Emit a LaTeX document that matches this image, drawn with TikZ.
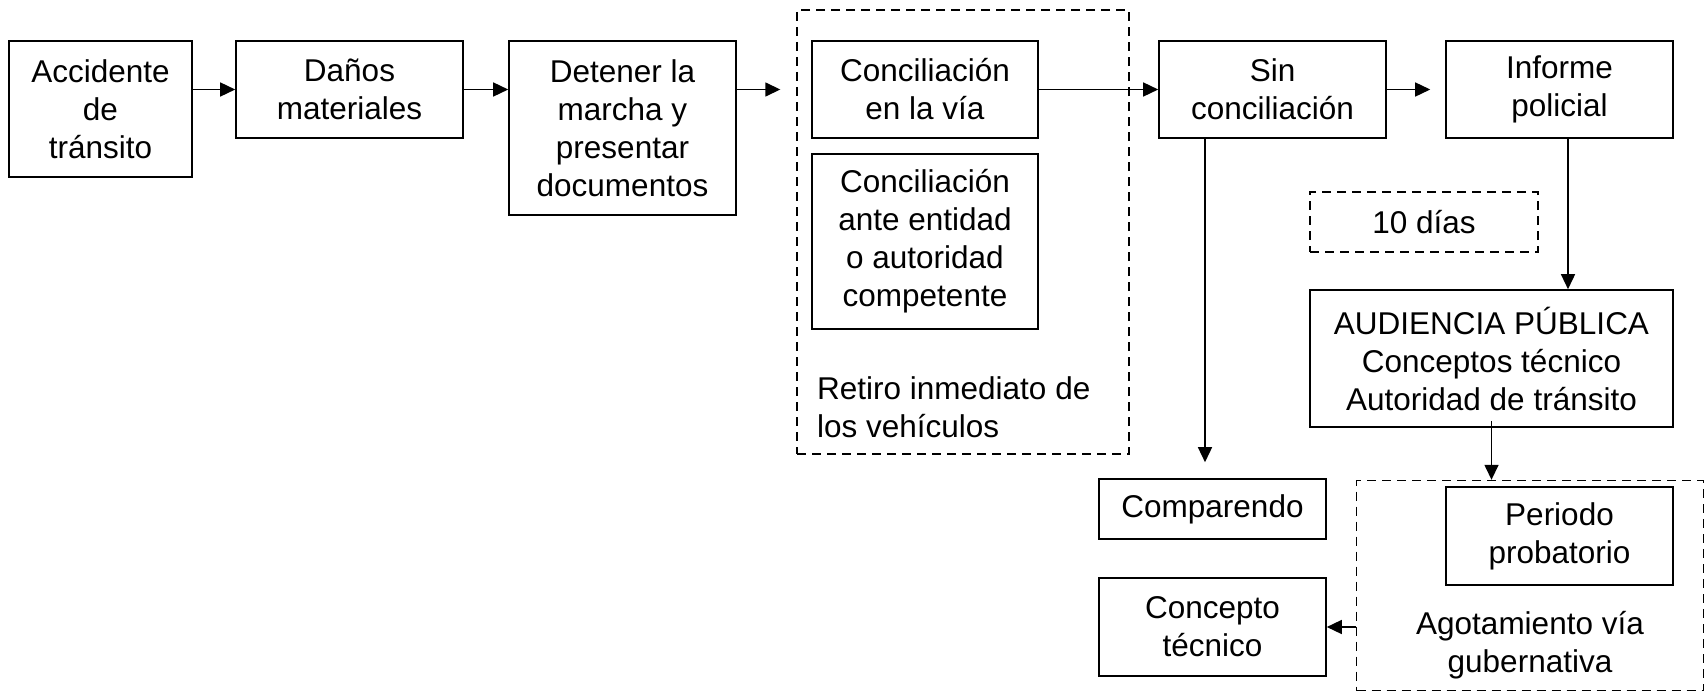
\documentclass[tikz,border=0pt]{standalone}
\usepackage{fontspec}
\setmainfont{Liberation Sans}
\usetikzlibrary{arrows.meta}
\tikzset{
  bx/.style={draw, line width=1.6pt, align=center, inner sep=0pt,
    font=\fontsize{31.5pt}{38pt}\selectfont},
  dbx/.style={bx, line width=1.4pt, dash pattern=on 9pt off 6pt},
  txt/.style={align=center, inner sep=0pt, font=\fontsize{31.5pt}{38pt}\selectfont},
  arr/.style={line width=1.5pt, -{Triangle[length=15pt,width=14pt]}},
}
\begin{document}
\begin{tikzpicture}[x=1pt,y=-1pt]
\useasboundingbox (0,0) rectangle (1705,693);
% dashed groups
\node[dbx, minimum width=332pt, minimum height=444pt] (grp) at (963,232) {};
\node[dbx, minimum width=347pt, minimum height=210pt] (ago) at (1530,585.5) {};
% boxes
\node[bx, minimum width=183pt, minimum height=136pt] (acc) at (100.5,109) {Accidente\\de\\tránsito};
\node[bx, minimum width=227pt, minimum height=97pt] (dan) at (349.5,89.5) {Daños\\materiales};
\node[bx, minimum width=227pt, minimum height=174pt] (det) at (622.5,128) {Detener la\\marcha y\\presentar\\documentos};
\node[bx, minimum width=226pt, minimum height=97pt] (cv) at (925,89.5) {Conciliación\\en la vía};
\node[bx, minimum width=226pt, minimum height=175pt] (ce) at (925,241.5) {Conciliación\\ante entidad\\o autoridad\\competente};
\node[txt, align=left, anchor=west] (ret) at (817,407) {Retiro inmediato de\\los vehículos};
\node[bx, minimum width=227pt, minimum height=97pt] (sin) at (1272.5,89.5) {Sin\\conciliación};
\node[bx, minimum width=227pt, minimum height=97pt] (inf) at (1559.5,89.5) {Informe\\policial};
\node[dbx, minimum width=228pt, minimum height=60pt] (dias) at (1424,222) {10 días};
\node[bx, minimum width=363pt, minimum height=137pt] (aud) at (1491.5,358.5) {AUDIENCIA PÚBLICA\\Conceptos técnico\\Autoridad de tránsito};
\node[bx, minimum width=227pt, minimum height=60pt] (comp) at (1212.5,509) {Comparendo};
\node[bx, minimum width=227pt, minimum height=98pt] (conc) at (1212.5,627) {Concepto\\técnico};
\node[bx, minimum width=227pt, minimum height=98pt] (per) at (1559.5,536) {Periodo\\probatorio};
\node[txt] (agot) at (1530,645) {Agotamiento vía\\gubernativa};
% connectors
\draw[arr] (acc.east |- dan.west) -- (dan.west);
\draw[arr] (dan.east) -- (det.west |- dan.east);
\draw[arr, shorten >=16pt] (det.east |- cv.west) -- (grp.west |- cv.west);
\draw[arr] (cv.east) -- (sin.west);
\draw[arr, shorten >=15pt] (sin.east) -- (inf.west);
\draw[arr] ([xshift=8.5pt]inf.south) -- ([xshift=8.5pt]inf.south |- aud.north);
\draw[arr, shorten >=16pt] ([xshift=-67.5pt]sin.south) -- ([xshift=-67.5pt]sin.south |- comp.north);
\draw[arr] ([yshift=7pt]aud.south) -- (aud.south |- ago.north);
\draw[arr] (ago.west |- conc.east) -- (conc.east);
\end{tikzpicture}
\end{document}
